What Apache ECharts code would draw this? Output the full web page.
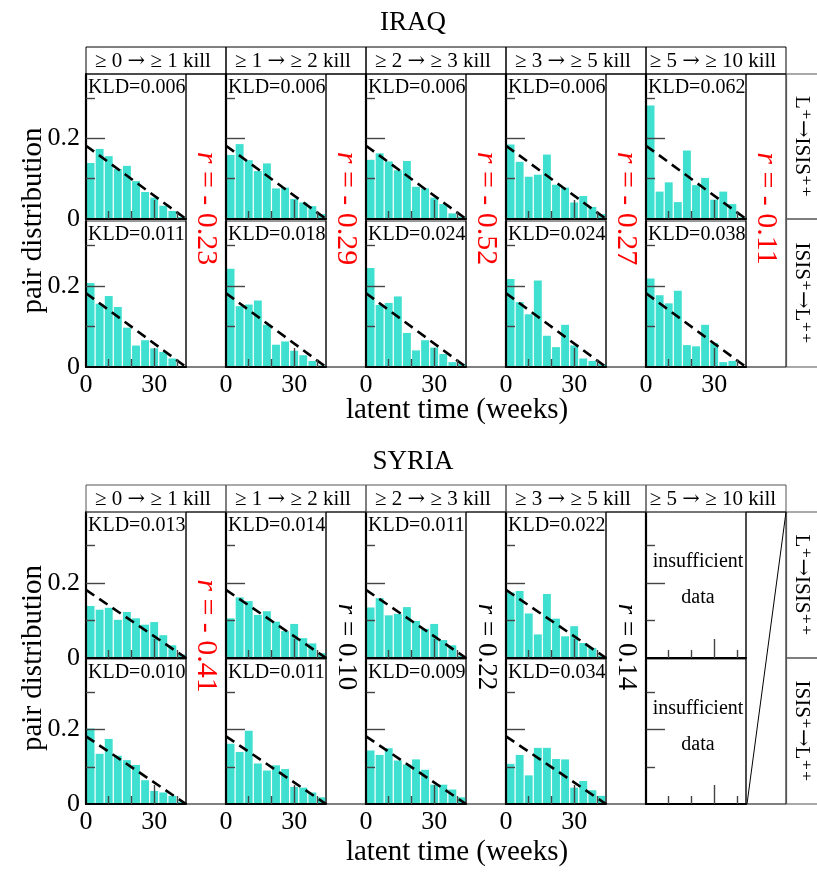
<!DOCTYPE html>
<html><head><meta charset="utf-8">
<script src="https://cdn.jsdelivr.net/npm/echarts@6/dist/echarts.min.js"></script>
<style>html,body{margin:0;padding:0;background:#fff}#c{width:817px;height:873px}</style>
</head><body><div id="c"></div>
<script>
// ---------------- data ----------------
const headers = ['≥ 0 → ≥ 1 kill', '≥ 1 → ≥ 2 kill', '≥ 2 → ≥ 3 kill', '≥ 3 → ≥ 5 kill', '≥ 5 → ≥ 10 kill'];
const binStart = [0, 4, 8, 12, 16, 20, 24, 28, 32, 36, 40]; // weeks
const binWidth = 4;
const nullLine = [[0, 0.182], [44, 0]];
const xTickMajor = [30];
const xTickMinor = [10, 20, 40];
const xLabels = [0, 30];
const yTickMajor = [0.2];
const yTickMinor = [0.1, 0.3];
const yLabels = [0, 0.2];

// IRAQ  (row 1: L+ -> ISIS++, row 2: ISIS+ -> L++)
const iraqTop = [
  [0.139, 0.174, 0.156, 0.124, 0.132, 0.094, 0.067, 0.053, 0.033, 0.020, 0.005],
  [0.159, 0.186, 0.146, 0.119, 0.138, 0.076, 0.078, 0.050, 0.041, 0.032, 0.012],
  [0.147, 0.163, 0.143, 0.121, 0.144, 0.080, 0.076, 0.053, 0.037, 0.014, 0.006],
  [0.185, 0.142, 0.105, 0.110, 0.160, 0.085, 0.078, 0.041, 0.057, 0.030, 0.012],
  [0.282, 0.068, 0.091, 0.042, 0.170, 0.084, 0.102, 0.048, 0.068, 0.037, 0.004]
];
const iraqBottom = [
  [0.207, 0.156, 0.175, 0.148, 0.097, 0.053, 0.066, 0.046, 0.037, 0.021, 0.003],
  [0.242, 0.150, 0.154, 0.164, 0.104, 0.055, 0.063, 0.040, 0.029, 0.015, 0.004],
  [0.244, 0.153, 0.158, 0.174, 0.084, 0.041, 0.066, 0.048, 0.032, 0.012, 0.008],
  [0.217, 0.160, 0.130, 0.213, 0.077, 0.049, 0.104, 0.053, 0.021, 0.015, 0.007],
  [0.218, 0.177, 0.157, 0.188, 0.054, 0.051, 0.104, 0.059, 0.012, 0.015, 0.002]
];
const iraqTopKLD = ['0.006', '0.006', '0.006', '0.006', '0.062'];
const iraqBottomKLD = ['0.011', '0.018', '0.024', '0.024', '0.038'];
const iraqR = ['- 0.23', '- 0.29', '- 0.52', '- 0.27', '- 0.11'];

// SYRIA
const syriaTop = [
  [0.139, 0.129, 0.134, 0.102, 0.123, 0.106, 0.089, 0.096, 0.061, 0.034, 0.009],
  [0.106, 0.162, 0.152, 0.115, 0.125, 0.097, 0.072, 0.091, 0.053, 0.039, 0.013],
  [0.135, 0.160, 0.114, 0.118, 0.136, 0.099, 0.078, 0.091, 0.048, 0.034, 0.006],
  [0.175, 0.179, 0.119, 0.063, 0.171, 0.105, 0.058, 0.085, 0.040, 0.027, 0.006],
  null
];
const syriaBottom = [
  [0.203, 0.135, 0.175, 0.130, 0.118, 0.105, 0.064, 0.035, 0.031, 0.022, 0.006],
  [0.162, 0.140, 0.197, 0.109, 0.090, 0.104, 0.094, 0.046, 0.044, 0.031, 0.018],
  [0.144, 0.132, 0.150, 0.117, 0.106, 0.120, 0.092, 0.052, 0.052, 0.039, 0.018],
  [0.108, 0.132, 0.077, 0.151, 0.151, 0.121, 0.120, 0.044, 0.062, 0.037, 0.022],
  null
];
const syriaTopKLD = ['0.013', '0.014', '0.011', '0.022', null];
const syriaBottomKLD = ['0.010', '0.011', '0.009', '0.034', null];
const syriaR = ['- 0.41', '0.10', '0.22', '0.14', null];
const syriaRNegative = [true, false, false, false, false];

const rowLabels = ['L⁺→ISIS⁺⁺', 'ISIS⁺→L⁺⁺'];

// ---------------- layout ----------------
const FONT = '"Liberation Serif","DejaVu Serif","Times New Roman",serif';
const ARROWFONT = '"DejaVu Serif","Noto Sans",serif';
const BAR = '#40E0D0';
const blocks = [
  {title: 'IRAQ', titleY: 23, headerTop: 47, headerH: 27, rows: [{top: 74, h: 145}, {top: 221, h: 146}],
   ymax: 0.36, data: [iraqTop, iraqBottom], kld: [iraqTopKLD, iraqBottomKLD], r: iraqR,
   rNeg: [true, true, true, true, true], nameY: 410, headerStroke: '#000'},
  {title: 'SYRIA', titleY: 462, headerTop: 485, headerH: 27, rows: [{top: 512, h: 146}, {top: 659, h: 145}],
   ymax: 0.39, data: [syriaTop, syriaBottom], kld: [syriaTopKLD, syriaBottomKLD], r: syriaR,
   rNeg: syriaRNegative, nameY: 852, headerStroke: '#555'}
];
const colLeft = k => 86 + 140 * k;
const PW = 100, RW = 40;

const grids = [], xAxes = [], yAxes = [], series = [], graphics = [];

// turn "→" into a rich-text token drawn in a font with a long arrow
function arrowRich(s) { return s.split('→').join('{a|→}'); }

function txt(x, y, text, size, opts) {
  opts = opts || {};
  const style = {
    text: text, fill: opts.fill || '#000',
    font: size + 'px ' + FONT,
    align: opts.align || 'center', verticalAlign: 'middle'
  };
  if (opts.arrow) {
    style.text = arrowRich(text);
    style.rich = {a: {fontFamily: ARROWFONT, fontSize: size, fill: '#000'}};
  }
  graphics.push({type: 'text', x: x, y: y, rotation: opts.rotation || 0, z: 100, style: style});
}
function rect(x, y, w, h, stroke, lw) {
  graphics.push({type: 'rect', z: 90, shape: {x: x, y: y, width: w, height: h},
    style: {fill: 'transparent', stroke: stroke || '#000', lineWidth: lw || 1}});
}

blocks.forEach(function (b) {
  const midY = (b.rows[0].top + b.rows[1].top + b.rows[1].h) / 2;
  txt(413, b.titleY, b.title, 27);
  txt(33, midY, 'pair distribution', 29, {rotation: Math.PI / 2});
  txt(457, b.nameY, 'latent time (weeks)', 29);

  for (let k = 0; k < 5; k++) {
    const L = colLeft(k);
    // header
    rect(L, b.headerTop, PW + RW, b.headerH, b.headerStroke, 1);
    txt(L + (PW + RW) / 2 - 3, b.headerTop + b.headerH / 2 + 1, headers[k], 21, {arrow: true});
    // r box
    const rTop = b.rows[0].top, rBot = b.rows[1].top + b.rows[1].h;
    rect(L + PW, rTop, RW, rBot - rTop, '#000', 1);
    if (b.r[k] !== null) {
      const neg = b.rNeg[k];
      const size = neg ? 30 : 27;
      graphics.push({
        type: 'text', x: L + PW + RW / 2, y: neg ? midY - (b.title === 'IRAQ' ? 12 : 22) : midY - 11,
        rotation: -Math.PI / 2, z: 100,
        style: {
          text: '{i|r} = ' + b.r[k],
          font: size + 'px ' + FONT, fill: neg ? '#ff0000' : '#000',
          align: 'center', verticalAlign: 'middle',
          rich: {i: {fontStyle: 'italic', fontSize: size, fontFamily: FONT, fill: neg ? '#ff0000' : '#000'}}
        }
      });
    } else {
      graphics.push({type: 'line', z: 95, shape: {x1: L + PW + RW, y1: rTop, x2: L + PW + 1, y2: rBot},
        style: {stroke: '#000', lineWidth: 1}});
    }

    for (let j = 0; j < 2; j++) {
      const row = b.rows[j];
      const g = grids.length;
      const vals = b.data[j][k];
      const hasData = vals !== null;
      grids.push({left: L, top: row.top, width: PW, height: row.h, show: true,
        borderColor: '#333', borderWidth: 1, backgroundColor: 'transparent', outerBoundsMode: 'none'});
      const showX = j === 1 && hasData;
      const showY = k === 0;
      const axLine = {show: true, onZero: false, lineStyle: {color: '#000', width: 2.2}};
      const tickStyle = {color: '#444', width: 1.4};
      xAxes.push({type: 'value', gridIndex: g, position: 'bottom', offset: 0, min: 0, max: 44, z: 5,
        axisLine: axLine, splitLine: {show: false},
        axisTick: {show: true, inside: true, length: 19, customValues: xTickMajor, lineStyle: tickStyle},
        axisLabel: {show: showX, customValues: xLabels, margin: 5, fontSize: 26, fontFamily: FONT, color: '#000'}});
      xAxes.push({type: 'value', gridIndex: g, position: 'bottom', offset: 0, min: 0, max: 44, z: 5,
        axisLine: {show: false, onZero: false}, splitLine: {show: false},
        axisTick: {show: true, inside: true, length: 8, customValues: xTickMinor, lineStyle: tickStyle},
        axisLabel: {show: false}});
      yAxes.push({type: 'value', gridIndex: g, position: 'left', offset: 0, min: 0, max: b.ymax, z: 5,
        axisLine: axLine, splitLine: {show: false},
        axisTick: {show: true, inside: true, length: 19, customValues: yTickMajor, lineStyle: tickStyle},
        axisLabel: {show: showY, customValues: yLabels, margin: 6, fontSize: 26, fontFamily: FONT, color: '#000',
          formatter: function (v) { return v === 0 ? '0' : String(v); }}});
      yAxes.push({type: 'value', gridIndex: g, position: 'left', offset: 0, min: 0, max: b.ymax, z: 5,
        axisLine: {show: false, onZero: false}, splitLine: {show: false},
        axisTick: {show: true, inside: true, length: 9, customValues: yTickMinor, lineStyle: tickStyle},
        axisLabel: {show: false}});

      if (hasData) {
        series.push({
          type: 'custom', xAxisIndex: 2 * g, yAxisIndex: 2 * g, z: 2, silent: true,
          data: binStart.map(function (s, i) { return [s, vals[i]]; }),
          renderItem: function (params, api) {
            const x0 = api.value(0), v = api.value(1);
            const p0 = api.coord([x0, v]);
            const p1 = api.coord([x0 + binWidth, 0]);
            return {type: 'rect', shape: {x: p0[0] + 0.6, y: p0[1], width: p1[0] - p0[0] - 1.2, height: p1[1] - p0[1]},
              style: {fill: BAR}};
          }
        });
        series.push({
          type: 'line', xAxisIndex: 2 * g, yAxisIndex: 2 * g, z: 4, silent: true,
          data: nullLine, symbol: 'none', animation: false,
          lineStyle: {color: '#000', width: 2.6, type: [10, 6]}
        });
        txt(L + 2, row.top + 14, 'KLD=' + b.kld[j][k], 20, {align: 'left'});
      } else {
        txt(L + PW / 2 + 2, row.top + row.h * 0.34, 'insufficient', 20);
        txt(L + PW / 2 + 2, row.top + row.h * 0.59, 'data', 20);
      }
    }
  }
  // right-side row labels
  for (let j = 0; j < 2; j++) {
    const row = b.rows[j];
    const top = j === 0 ? row.top : b.rows[0].top + b.rows[0].h;
    const bot = j === 0 ? b.rows[0].top + b.rows[0].h : row.top + row.h;
    rect(786.5, top, 32, bot - top, '#555', 1.2);
    txt(802, (top + bot) / 2, rowLabels[j], 21, {rotation: -Math.PI / 2, arrow: true});
  }
});

const chart = echarts.init(document.getElementById('c'));
chart.setOption({
  animation: false,
  backgroundColor: '#fff',
  grid: grids, xAxis: xAxes, yAxis: yAxes, series: series, graphic: graphics
});
</script></body></html>
